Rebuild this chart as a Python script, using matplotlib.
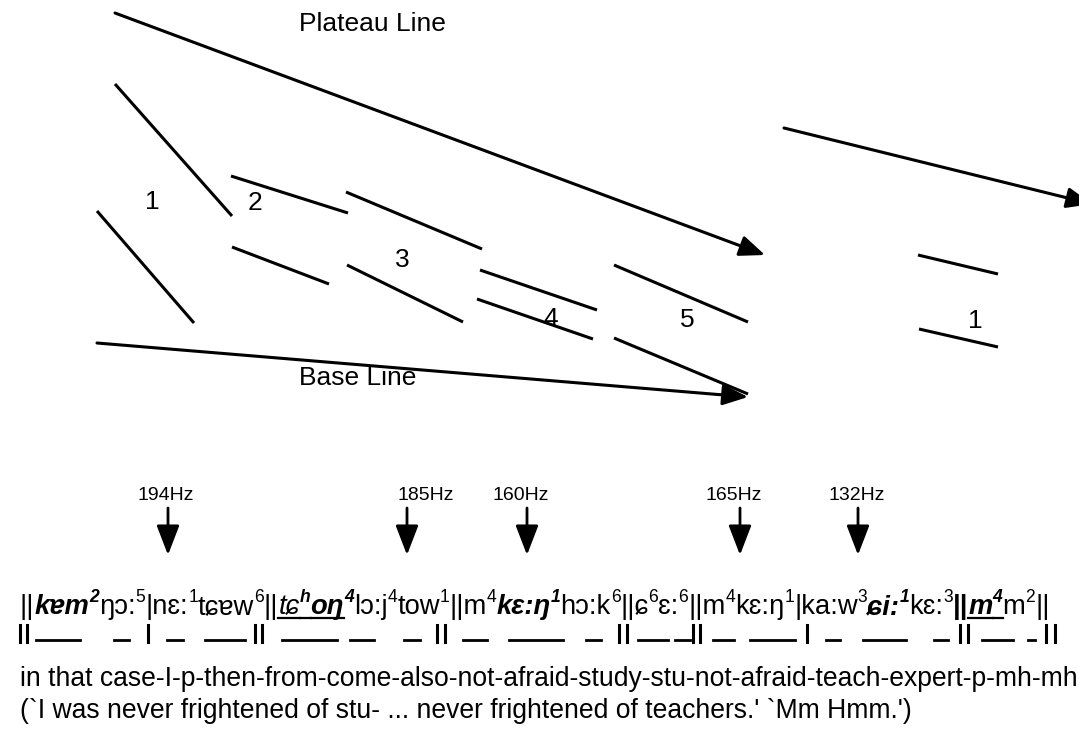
import matplotlib.pyplot as plt

W, H = 1079, 730
plt.rcParams['font.family'] = ['Liberation Sans', 'DejaVu Sans']

# upper diagram, in pixel coordinates of the picture
plateau_arrows = [((115, 13), (765, 255)), ((784, 128), (1092, 204))]
base_arrow = ((97, 343), (748, 397))
contours = [
    ((115, 84), (232, 216)), ((97, 211), (194, 323)),
    ((231, 176), (348, 213)), ((232, 247), (329, 284)),
    ((346, 192), (482, 249)), ((347, 265), (463, 322)),
    ((480, 270), (597, 310)), ((477, 299), (593, 339)),
    ((614, 265), (748, 322)), ((614, 338), (748, 394)),
    ((918, 255), (998, 274)), ((919, 329), (998, 347)),
]
unit_labels = ['1', '2', '3', '4', '5', '1']
unit_xy = [(152, 202), (255, 203), (402, 260), (551, 319), (687, 320), (975, 321)]

# pitch measurements
hz_labels = ['194Hz', '185Hz', '160Hz', '165Hz', '132Hz']
hz_label_x = [166, 426, 521, 734, 857]
hz_arrow_x = [168, 407, 527, 740, 858]

# transcription: text, style, superscript, underlined
phon = [
    ('||', 'n', 0, 0),
    ('kɐm', 'bi', 0, 0), ('2', 'bi', 1, 0),
    ('ŋɔ:', 'n', 0, 0), ('5', 'n', 1, 0),
    ('|nɛ:', 'n', 0, 0), ('1', 'n', 1, 0),
    ('tɕɐw', 'n', 0, 0), ('6', 'n', 1, 0),
    ('||', 'n', 0, 0),
    ('tɕ', 'i', 0, 1), ('h', 'bi', 1, 1), ('oŋ', 'bi', 0, 1), ('4', 'bi', 1, 0),
    ('lɔ:j', 'n', 0, 0), ('4', 'n', 1, 0),
    ('tow', 'n', 0, 0), ('1', 'n', 1, 0),
    ('||m', 'n', 0, 0), ('4', 'n', 1, 0),
    ('kɛ:ŋ', 'bi', 0, 0), ('1', 'bi', 1, 0),
    ('hɔ:k', 'n', 0, 0), ('6', 'n', 1, 0),
    ('||ɕ', 'n', 0, 0), ('6', 'n', 1, 0),
    ('ɛ:', 'n', 0, 0), ('6', 'n', 1, 0),
    ('||m', 'n', 0, 0), ('4', 'n', 1, 0),
    ('kɛ:ŋ', 'n', 0, 0), ('1', 'n', 1, 0),
    ('|ka:w', 'n', 0, 0), ('3', 'n', 1, 0),
    ('ɕi:', 'bi', 0, 0), ('1', 'bi', 1, 0),
    ('kɛ:', 'n', 0, 0), ('3', 'n', 1, 0),
    ('||', 'b', 0, 0),
    ('m', 'bi', 0, 1), ('4', 'bi', 1, 1),
    ('m', 'n', 0, 0), ('2', 'n', 1, 0),
    ('||', 'n', 0, 0),
]

# tone row under the transcription
tone_bars = [20, 27, 148, 255, 262, 437, 445, 619, 627, 693, 700, 807, 960, 968, 1046, 1055]
tone_dashes = [(36, 80), (114, 129), (167, 183), (205, 245), (282, 337), (350, 374),
               (404, 420), (463, 487), (509, 563), (586, 601), (638, 668), (675, 690),
               (713, 734), (750, 795), (826, 840), (863, 906), (934, 948), (982, 1013),
               (1028, 1035)]

gloss = 'in that case-I-p-then-from-come-also-not-afraid-study-stu-not-afraid-teach-expert-p-mh-mh'
translation = "(`I was never frightened of stu- ... never frightened of teachers.' `Mm Hmm.')"

fig = plt.figure(figsize=(W / 100, H / 100), dpi=100)
ax = fig.add_axes([0, 0, 1, 1])
ax.set_xlim(0, W)
ax.set_ylim(H, 0)
ax.axis('off')
renderer = fig.canvas.get_renderer()

lw = 2.2
for (x0, y0), (x1, y1) in contours:
    ax.plot([x0, x1], [y0, y1], color='black', lw=lw, solid_capstyle='butt')
for (x0, y0), (x1, y1) in plateau_arrows + [base_arrow]:
    ax.annotate('', xy=(x1, y1), xytext=(x0, y0), annotation_clip=False,
                arrowprops=dict(arrowstyle='-|>,head_length=1.1,head_width=0.45',
                                mutation_scale=14, lw=lw, color='black',
                                shrinkA=0, shrinkB=0))

ax.text(372, 24, 'Plateau Line', fontsize=19, ha='center', va='center')
ax.text(358, 378, 'Base Line', fontsize=19, ha='center', va='center')
for lab, (x, y) in zip(unit_labels, unit_xy):
    ax.text(x, y, lab, fontsize=19, ha='center', va='center')

for lab, lx, axx in zip(hz_labels, hz_label_x, hz_arrow_x):
    ax.text(lx, 496, lab, fontsize=14, ha='center', va='center')
    ax.annotate('', xy=(axx, 555), xytext=(axx, 508),
                arrowprops=dict(arrowstyle='-|>,head_length=1.3,head_width=0.5',
                                mutation_scale=14, lw=2, color='black',
                                shrinkA=0, shrinkB=0))

base_y = 614


def draw_phon(size, x_start):
    x = x_start
    made = []
    for txt, st, sup, und in phon:
        fs = size * 0.64 if sup else size
        y = base_y - size * 1.389 * 0.42 if sup else base_y
        t = ax.text(x, y, txt, fontsize=fs, va='baseline', ha='left',
                    fontweight='bold' if 'b' in st else 'normal',
                    fontstyle='italic' if 'i' in st else 'normal')
        w = t.get_window_extent(renderer).width
        made.append(t)
        if und:
            made += ax.plot([x, x + w], [base_y + 4, base_y + 4], color='black', lw=1.6)
        x += w
    return x, made


# fit the transcription between its two ends
x_end, tmp = draw_phon(19, 20)
for a in tmp:
    a.remove()
size = 19 * (1048 - 20) / (x_end - 20)
draw_phon(size, 20)

for x in tone_bars:
    ax.plot([x, x], [625, 642], color='black', lw=2.2)
for x0, x1 in tone_dashes:
    ax.plot([x0, x1], [640, 640], color='black', lw=2)

ax.text(20, 679, gloss, fontsize=19.1, ha='left', va='center')
ax.text(20, 711, translation, fontsize=19.1, ha='left', va='center')

fig.savefig('out.png', dpi=100)
